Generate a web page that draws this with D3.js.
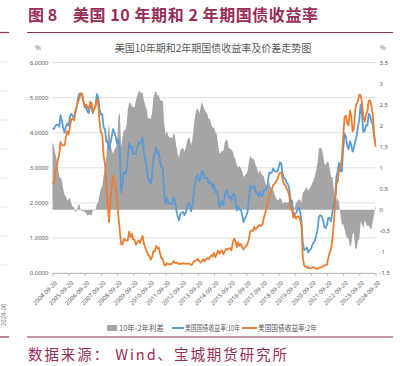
<!DOCTYPE html>
<html><head><meta charset="utf-8">
<script src="https://cdn.jsdelivr.net/npm/d3@7"></script>
<style>body{margin:0;background:#fff}svg{display:block}text{font-family:"Noto Sans CJK SC","Noto Sans",sans-serif}</style>
</head><body><svg id="c" width="400" height="366"></svg>
<script>
// Monthly observations (20th of each month), Sep 2004 – Sep 2024
const startYear = 2004, startMonth = 9;
const tenY = [
4.13,4.10,4.19,4.23,
4.22,4.17,4.50,4.34,4.14,4.00,4.18,4.26,4.20,4.46,4.54,4.47,
4.42,4.57,4.72,4.99,5.11,5.11,5.09,4.88,4.72,4.73,4.60,4.56,
4.76,4.72,4.56,4.69,4.75,5.10,5.00,4.67,4.52,4.53,4.15,4.10,
3.74,3.74,3.51,3.68,3.88,4.10,4.01,3.89,3.69,3.81,3.53,2.30,
2.52,2.87,2.82,2.93,3.29,3.72,3.56,3.59,3.40,3.39,3.40,3.59,
3.73,3.69,3.73,3.85,3.42,3.20,3.01,2.70,2.65,2.54,2.76,3.29,
3.39,3.58,3.41,3.46,3.17,3.00,3.00,2.30,1.98,2.15,2.01,1.98,
1.97,1.97,2.17,2.05,1.80,1.62,1.50,1.68,1.72,1.75,1.65,1.72,
1.91,1.98,1.96,1.76,1.93,2.30,2.58,2.74,2.81,2.62,2.72,2.90,
2.86,2.71,2.72,2.71,2.56,2.60,2.54,2.42,2.53,2.30,2.33,2.21,
1.88,1.98,2.04,1.94,2.20,2.36,2.32,2.17,2.17,2.07,2.26,2.24,
2.09,1.78,1.89,1.81,1.81,1.64,1.45,1.56,1.63,1.76,2.14,2.49,
2.43,2.42,2.48,2.30,2.30,2.19,2.32,2.21,2.20,2.36,2.35,2.40,
2.58,2.86,2.84,2.87,2.98,2.91,2.89,2.89,3.00,3.15,3.12,2.83,
2.71,2.68,2.57,2.53,2.40,2.07,2.06,1.63,1.70,1.71,1.81,1.86,
1.76,1.50,0.87,0.66,0.67,0.73,0.58,0.65,0.68,0.79,0.87,0.93,
1.08,1.26,1.61,1.64,1.62,1.52,1.32,1.28,1.37,1.58,1.56,1.47,
1.76,1.93,2.13,2.75,2.90,3.14,2.90,2.90,3.52,3.98,3.89,3.62,
3.53,3.75,3.66,3.46,3.57,3.75,3.90,4.17,4.38,4.80,4.50,4.02,
4.06,4.21,4.21,4.54,4.48,4.31,4.25,3.87,3.72
];
const twoY = [
2.53,2.58,2.85,3.01,
3.22,3.38,3.73,3.65,3.64,3.64,3.87,4.04,3.95,4.17,4.39,4.39,
4.35,4.64,4.74,4.89,4.97,5.12,5.12,4.90,4.77,4.80,4.74,4.67,
4.88,4.85,4.57,4.67,4.77,4.96,4.82,4.31,4.01,3.97,3.34,3.12,
2.48,1.97,1.45,2.05,2.45,2.77,2.57,2.42,2.08,1.61,1.21,0.82,
0.81,0.98,0.93,0.93,0.92,1.18,1.02,1.12,0.96,0.95,0.80,0.87,
0.93,0.86,0.96,1.06,0.83,0.72,0.62,0.52,0.48,0.38,0.45,0.62,
0.61,0.77,0.70,0.73,0.56,0.41,0.41,0.23,0.21,0.28,0.25,0.26,
0.24,0.28,0.34,0.29,0.29,0.29,0.25,0.27,0.26,0.28,0.27,0.26,
0.27,0.27,0.26,0.23,0.25,0.33,0.34,0.36,0.40,0.34,0.30,0.34,
0.39,0.33,0.40,0.42,0.39,0.45,0.51,0.47,0.57,0.45,0.53,0.64,
0.55,0.62,0.64,0.54,0.61,0.69,0.67,0.70,0.71,0.64,0.88,0.98,
0.90,0.73,0.88,0.77,0.82,0.73,0.67,0.74,0.77,0.84,0.98,1.20,
1.21,1.20,1.31,1.24,1.30,1.34,1.37,1.34,1.38,1.57,1.70,1.84,
2.03,2.18,2.28,2.38,2.51,2.53,2.61,2.65,2.78,2.86,2.86,2.68,
2.54,2.50,2.41,2.34,2.21,1.81,1.84,1.57,1.65,1.55,1.61,1.61,
1.52,1.33,0.45,0.22,0.17,0.19,0.14,0.14,0.13,0.15,0.17,0.13,
0.13,0.12,0.15,0.16,0.16,0.20,0.22,0.22,0.24,0.44,0.58,0.69,
0.98,1.44,1.91,2.54,2.61,2.99,3.02,3.25,3.86,4.43,4.49,4.29,
4.21,4.63,4.49,4.04,4.11,4.66,4.83,4.90,5.08,5.07,4.85,4.46,
4.31,4.53,4.60,4.91,4.92,4.77,4.52,3.97,3.60
];
const spread = [
1.60,1.52,1.34,1.22,
1.00,0.79,0.77,0.69,0.50,0.36,0.31,0.22,0.25,0.29,0.15,0.08,
0.07,-0.07,-0.02,0.10,0.14,-0.01,-0.03,-0.02,-0.05,-0.07,-0.14,-0.11,
-0.12,-0.13,-0.01,0.02,-0.02,0.14,0.18,0.36,0.51,0.56,0.81,0.98,
1.26,1.77,2.06,1.63,1.43,1.33,1.44,1.47,1.61,2.20,2.32,1.48,
1.71,1.89,1.89,2.00,2.37,2.54,2.54,2.47,2.44,2.44,2.60,2.72,
2.80,2.83,2.77,2.79,2.59,2.48,2.39,2.18,2.17,2.16,2.31,2.67,
2.78,2.81,2.71,2.73,2.61,2.59,2.59,2.07,1.77,1.87,1.76,1.72,
1.73,1.69,1.83,1.76,1.51,1.33,1.25,1.41,1.46,1.47,1.38,1.46,
1.64,1.71,1.70,1.53,1.68,1.97,2.24,2.38,2.41,2.28,2.42,2.56,
2.47,2.38,2.32,2.29,2.17,2.15,2.03,1.95,1.96,1.85,1.80,1.57,
1.33,1.36,1.40,1.40,1.59,1.67,1.65,1.47,1.46,1.43,1.38,1.26,
1.19,1.05,1.01,1.04,0.99,0.91,0.78,0.82,0.86,0.92,1.16,1.29,
1.22,1.22,1.17,1.06,1.00,0.85,0.95,0.87,0.82,0.79,0.65,0.56,
0.55,0.68,0.56,0.49,0.47,0.38,0.28,0.24,0.22,0.29,0.26,0.15,
0.17,0.18,0.16,0.19,0.19,0.26,0.22,0.06,0.05,0.16,0.20,0.25,
0.24,0.17,0.42,0.44,0.50,0.54,0.44,0.51,0.55,0.64,0.70,0.80,
0.95,1.14,1.46,1.48,1.46,1.32,1.10,1.06,1.13,1.14,0.98,0.78,
0.78,0.49,0.22,0.21,0.29,0.15,-0.12,-0.35,-0.34,-0.45,-0.60,-0.67,
-0.68,-0.88,-0.83,-0.58,-0.54,-0.91,-0.93,-0.73,-0.70,-0.27,-0.35,-0.44,
-0.25,-0.32,-0.39,-0.37,-0.44,-0.46,-0.27,-0.10,0.12
];
const leftTicks = [0,1,2,3,4,5,6];
const rightTicks = [-1.5,-1,-0.5,0,0.5,1,1.5,2,2.5,3,3.5];
const xTickYears = d3.range(2004, 2025);
const seriesNames = ["10年-2年利差","美国国债收益率:10年","美国国债收益率:2年"];
const seriesColors = ["#a5a5a5","#5b9bd5","#ed7d31"];

const dates = tenY.map((_, i) => new Date(startYear, startMonth - 1 + i, 20));
const svg = d3.select("#c");
const maroon = "#982d57";
const L = 52.5, R = 375.5, T = 62.5, B = 273;

const x = d3.scaleTime().domain([new Date(2004,8,20), new Date(2024,8,20)]).range([L, R]);
const yL = d3.scaleLinear().domain([0,6]).range([B, T]);
const yR = d3.scaleLinear().domain([-1.5,3.5]).range([B, T]);

// page fragments at left edge
const frag = svg.append("g");
d3.range(8).forEach(k => frag.append("line").attr("x1",0).attr("x2",9)
  .attr("y1",62+29*k).attr("y2",62+29*k).attr("stroke","#e3e3e3").attr("stroke-width",0.8));
frag.append("text").attr("transform","translate(6,326) rotate(-90)")
  .attr("font-size",6).attr("fill","#777").text("2024-08");

// header
svg.append("text").attr("x",28).attr("y",21).attr("font-size",16).attr("font-weight","bold")
  .attr("fill",maroon).text("图 8");
svg.append("text").attr("x",73).attr("y",21).attr("font-size",16).attr("font-weight","bold")
  .attr("fill",maroon).attr("textLength",245).attr("lengthAdjust","spacing")
  .text("美国 10 年期和 2 年期国债收益率");
[[0,9],[27,393]].forEach(([a,b]) => {
  svg.append("line").attr("x1",a).attr("x2",b).attr("y1",32.5).attr("y2",32.5).attr("stroke",maroon).attr("stroke-width",1.2);
  svg.append("line").attr("x1",a).attr("x2",b).attr("y1",337).attr("y2",337).attr("stroke",maroon).attr("stroke-width",1.2);
});
svg.append("text").attr("x",28).attr("y",360).attr("font-size",14.5).attr("fill",maroon)
  .attr("textLength",259).attr("lengthAdjust","spacing").text("数据来源： Wind、宝城期货研究所");

// chart title and units
svg.append("text").attr("x",213).attr("y",52).attr("text-anchor","middle").attr("font-size",10)
  .attr("fill","#595959").text("美国10年期和2年期国债收益率及价差走势图");
svg.append("text").attr("x",38).attr("y",50).attr("text-anchor","middle").attr("font-size",6).attr("fill","#595959").text("%");
svg.append("text").attr("x",383).attr("y",50).attr("text-anchor","middle").attr("font-size",6).attr("fill","#595959").text("%");

// gridlines
svg.append("g").selectAll("line").data(leftTicks).join("line")
  .attr("x1",L).attr("x2",R).attr("y1",d=>yL(d)).attr("y2",d=>yL(d))
  .attr("stroke","#d9d9d9").attr("stroke-width",0.8);

// spread area
svg.append("path").datum(spread)
  .attr("d", d3.area().x((d,i)=>x(dates[i])).y0(yR(0)).y1(d=>yR(d)))
  .attr("fill",seriesColors[0]);

// lines
const line = y => d3.line().x((d,i)=>x(dates[i])).y(d=>y(d));
svg.append("path").datum(tenY).attr("d",line(yL)).attr("fill","none")
  .attr("stroke",seriesColors[1]).attr("stroke-width",1.8).attr("stroke-linejoin","round");
svg.append("path").datum(twoY).attr("d",line(yL)).attr("fill","none")
  .attr("stroke",seriesColors[2]).attr("stroke-width",1.8).attr("stroke-linejoin","round");

// axes
const ax = svg.append("g").attr("transform",`translate(0,${B})`)
  .call(d3.axisBottom(x).tickValues(xTickYears.map(y=>new Date(y,8,20)))
    .tickFormat(d3.timeFormat("%Y-%m-%d")).tickSize(3).tickSizeOuter(0));
ax.selectAll("path,line").attr("stroke","#bfbfbf");
ax.selectAll("text").attr("x",0).attr("y",0).attr("dy","0.35em")
  .attr("transform","translate(3,9) rotate(-45)").attr("text-anchor","end")
  .attr("font-size",6).attr("fill","#595959").style("font-family","'Noto Sans',sans-serif");

const al = svg.append("g").attr("transform",`translate(${L},0)`)
  .call(d3.axisLeft(yL).tickValues(leftTicks).tickFormat(d3.format(".4f")).tickSize(0).tickPadding(4));
al.select(".domain").remove();
al.selectAll("text").attr("font-size",6).attr("fill","#595959").style("font-family","'Noto Sans',sans-serif");

const ar = svg.append("g").attr("transform",`translate(${R},0)`)
  .call(d3.axisRight(yR).tickValues(rightTicks).tickFormat(d=>String(d)).tickSize(0).tickPadding(4));
ar.select(".domain").remove();
ar.selectAll("text").attr("font-size",6).attr("fill","#595959").style("font-family","'Noto Sans',sans-serif");

// legend
const lg = svg.append("g").attr("font-size",7.5).attr("fill","#595959");
lg.append("rect").attr("x",107).attr("y",325).attr("width",10).attr("height",6).attr("fill",seriesColors[0]);
lg.append("text").attr("x",119).attr("y",331).text(seriesNames[0]);
lg.append("line").attr("x1",172).attr("x2",184).attr("y1",328).attr("y2",328).attr("stroke",seriesColors[1]).attr("stroke-width",2);
lg.append("text").attr("x",185).attr("y",331).attr("textLength",55).attr("lengthAdjust","spacingAndGlyphs").text(seriesNames[1]);
lg.append("line").attr("x1",242).attr("x2",257).attr("y1",328).attr("y2",328).attr("stroke",seriesColors[2]).attr("stroke-width",2);
lg.append("text").attr("x",258).attr("y",331).attr("textLength",59).attr("lengthAdjust","spacingAndGlyphs").text(seriesNames[2]);
</script>
</body></html>
